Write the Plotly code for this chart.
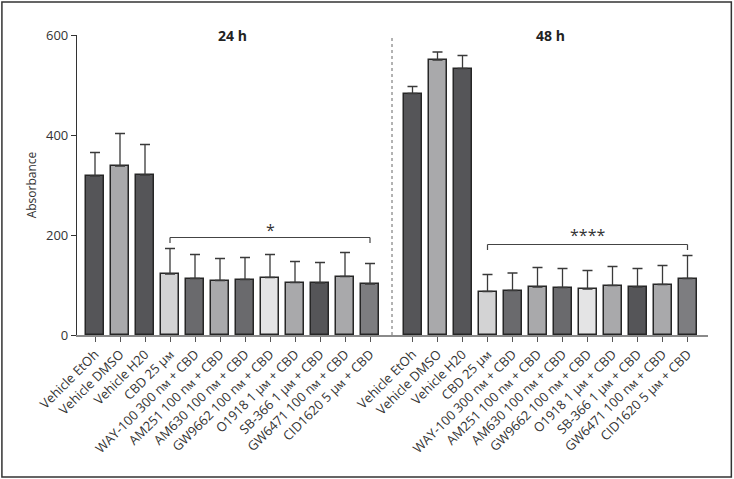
import plotly.graph_objects as go

labels = ["Vehicle EtOh", "Vehicle DMSO", "Vehicle H20", "CBD 25 μᴍ",
          "WAY-100 300 nᴍ + CBD", "AM251 100 nᴍ + CBD", "AM630 100 nᴍ + CBD",
          "GW9662 100 nᴍ + CBD", "O1918 1 μᴍ + CBD", "SB-366 1 μᴍ + CBD",
          "GW6471 100 nᴍ + CBD", "CID1620 5 μᴍ + CBD"]

mean_24h = [318, 338, 320, 122, 113, 109, 111, 115, 105, 104, 117, 102]
err_24h = [47, 65, 61, 51, 48, 44, 44, 46, 42, 41, 48, 41]
mean_48h = [483, 550, 533, 87, 89, 96, 95, 92, 99, 96, 101, 113]
err_48h = [14, 16, 26, 34, 35, 39, 38, 37, 38, 37, 38, 46]

bar_colors = ["#555558", "#a9a9ab", "#555558", "#d3d3d4", "#6a6a6d", "#a9a9ab",
              "#6a6a6d", "#e4e4e5", "#a9a9ab", "#555558", "#a9a9ab", "#7d7d80"]

group_titles = ["24 h", "48 h"]
group_offsets = [0, 12.7]
bracket_y = [195, 181]
bracket_tick = [184, 170]
star_text = ["*", "****"]
star_y = [211, 201]

fig = go.Figure()
tickvals, ticktext = [], []
for gi, (means, errs) in enumerate([(mean_24h, err_24h), (mean_48h, err_48h)]):
    xs = [group_offsets[gi] + i for i in range(len(labels))]
    tickvals += xs
    ticktext += labels
    fig.add_trace(go.Bar(
        x=xs, y=means, width=0.72,
        marker=dict(color=bar_colors, line=dict(color="#262626", width=1.5)),
        error_y=dict(type="data", array=errs, arrayminus=[0] * len(errs), symmetric=False,
                     color="#3a3a3a", thickness=1.3, width=5),
        showlegend=False, hoverinfo="x+y"))
    xl, xr = xs[3], xs[-1]
    fig.add_shape(type="line", x0=xl, x1=xr, y0=bracket_y[gi], y1=bracket_y[gi],
                  line=dict(color="#444", width=1.2))
    fig.add_shape(type="line", x0=xl, x1=xl, y0=bracket_tick[gi], y1=bracket_y[gi],
                  line=dict(color="#444", width=1.2))
    fig.add_shape(type="line", x0=xr, x1=xr, y0=bracket_tick[gi], y1=bracket_y[gi],
                  line=dict(color="#444", width=1.2))
    fig.add_annotation(x=(xl + xr) / 2, y=star_y[gi], text=star_text[gi], showarrow=False,
                       font=dict(size=16, color="#333"), yanchor="middle")
    fig.add_annotation(x=(xs[0] + xs[-1]) / 2, y=600, text="<b>" + group_titles[gi] + "</b>",
                       showarrow=False, font=dict(size=14, color="#222"), yanchor="middle")

fig.add_shape(type="line", x0=11.88, x1=11.88, y0=0, y1=600,
              line=dict(color="#666", width=1, dash="dot"))

# figure frame
fig.add_shape(type="rect", xref="paper", yref="paper",
              x0=-0.119, x1=1.037, y0=-0.473, y1=1.11,
              line=dict(color="#333", width=1.5))

fig.update_layout(
    width=734, height=479,
    margin=dict(l=77, r=26, t=35, b=144),
    paper_bgcolor="white", plot_bgcolor="white",
    font=dict(family="Open Sans", size=12, color="#333"),
    bargap=0,
)
fig.update_xaxes(range=[-0.72, 24.52], tickvals=tickvals, ticktext=ticktext,
                 tickangle=-45, showline=True, linecolor="#8a8a8a", linewidth=1.5,
                 ticks="outside", ticklen=5, tickcolor="#555", tickwidth=1,
                 showgrid=False, zeroline=False, automargin=False,
                 tickfont=dict(size=13, color="#333"))
fig.update_yaxes(range=[0, 600], tickvals=[0, 200, 400, 600], showline=True,
                 linecolor="#333", linewidth=1.2, ticks="outside", ticklen=5,
                 tickcolor="#333", showgrid=False, zeroline=False, automargin=False,
                 title=dict(text="Absorbance", font=dict(size=12), standoff=6),
                 tickfont=dict(size=13, color="#333"))

fig.write_html("out.html", config={"displayModeBar": False},
               post_script="document.body.style.margin='0px';")
